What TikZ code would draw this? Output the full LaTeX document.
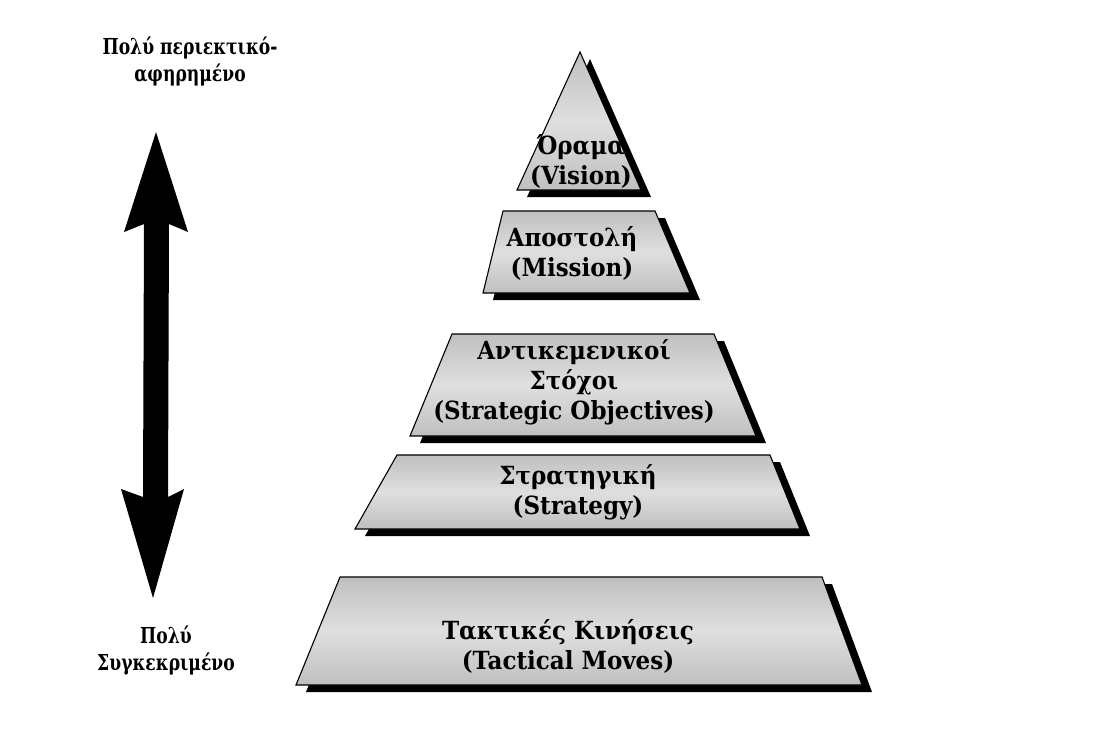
\documentclass[tikz,border=0pt]{standalone}
\usepackage{fontspec}
\setmainfont{DejaVu Serif}
\newfontfamily\tierfont[FakeStretch=0.92]{DejaVu Serif Bold}
\newfontfamily\sidefont[FakeStretch=0.78]{DejaVu Serif Bold}
\begin{document}
\begin{tikzpicture}[x=1pt,y=-1pt,
  tier/.style={draw=black, line width=1.1pt, top color=gray!50, bottom color=gray!50, middle color=gray!25},
  tiershadow/.style={fill=black, shift={(10,7)}},
  tiertext/.style={font=\tierfont\fontsize{25}{30}\selectfont, align=center, inner sep=0pt},
  sidetext/.style={font=\sidefont\fontsize{22}{27}\selectfont, align=center, inner sep=0pt},
  bigarrow/.style={fill=black}]
\useasboundingbox (0,0) rectangle (1108,734);

% ---- double-headed arrow ----
\fill[bigarrow] (156,132) -- (188,232) -- (169,224) -- (168,497) -- (184,489)
  -- (153,598) -- (121,489) -- (143,497) -- (144,224) -- (124,232) -- cycle;

% ---- side labels ----
\node[sidetext] (top) at (190,61) {Πολύ περιεκτικό-\\αφηρημένο};
\node[sidetext] (bottom) at (166,651) {Πολύ\\Συγκεκριμένο};

% ---- Vision ----
\fill[tiershadow] (580,52) -- (641,190) -- (517,190) -- cycle;
\path[tier] (580,52) -- (641,190) -- (517,190) -- cycle;
\node[tiertext] (vision) at (581,161) {Όραμα\\(Vision)};

% ---- Mission ----
\fill[tiershadow] (503,211) -- (655,211) -- (690,293) -- (483,293) -- cycle;
\path[tier] (503,211) -- (655,211) -- (690,293) -- (483,293) -- cycle;
\node[tiertext] (mission) at (572,253) {Αποστολή\\(Mission)};

% ---- Strategic objectives ----
\fill[tiershadow] (452,334) -- (714,334) -- (756,436) -- (410,436) -- cycle;
\path[tier] (452,334) -- (714,334) -- (756,436) -- (410,436) -- cycle;
\node[tiertext] (objectives) at (574,382) {Αντικεμενικοί\\Στόχοι\\(Strategic Objectives)};

% ---- Strategy ----
\fill[tiershadow] (397,455) -- (770,455) -- (800,529) -- (355,529) -- cycle;
\path[tier] (397,455) -- (770,455) -- (800,529) -- (355,529) -- cycle;
\node[tiertext] (strategy) at (578,492) {Στρατηγική\\(Strategy)};

% ---- Tactical moves ----
\fill[tiershadow] (340,577) -- (822,577) -- (862,685) -- (296,685) -- cycle;
\path[tier] (340,577) -- (822,577) -- (862,685) -- (296,685) -- cycle;
\node[tiertext] (tactical) at (568,646) {Τακτικές Κινήσεις\\(Tactical Moves)};
\end{tikzpicture}
\end{document}
